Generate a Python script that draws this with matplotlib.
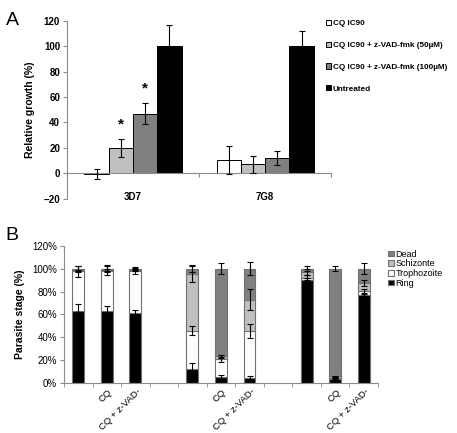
import numpy as np
import matplotlib
matplotlib.use("Agg")
import matplotlib.pyplot as plt
import matplotlib.transforms as mtransforms

plt.rcParams['font.family'] = ['Liberation Sans', 'DejaVu Sans']

# Panel A: relative growth
strains = ['3D7', '7G8']
treatments = ['CQ IC90', 'CQ IC90 + z-VAD-fmk (50µM)', 'CQ IC90 + z-VAD-fmk (100µM)', 'Untreated']
growth = [[-0.5, 10.5], [20, 7], [47, 12], [100, 100]]
growth_err = [[4, 11], [7, 7], [8.5, 5.5], [17, 12]]
significant = [[False, False], [True, False], [True, False], [False, False]]
colors_a = ['white', '#c0c0c0', '#808080', 'black']

# Panel B: parasite stage distribution
nan = np.nan
stage_ticks = ['', 'CQ', 'CQ + z-VAD-', '', '', 'CQ', 'CQ + z-VAD-', '', '', 'CQ', 'CQ + z-VAD-']
ring = [63, 63, 61, nan, 12.5, 5.5, 4.5, nan, 90, 3.5, 77]
troph = [34.5, 35, 37, nan, 33.5, 15.5, 41, nan, 2, 1.5, 3.5]
schiz = [0.5, 0.5, 0.5, nan, 49.5, 2.5, 27.5, nan, 5, 1, 7]
dead = [2, 1.5, 1.5, nan, 4.5, 76.5, 27, nan, 3, 94, 12.5]
ring_err = [6, 4.5, 3, nan, 5.5, 1.5, 1.5, nan, 1.5, 0.5, 1]
troph_err = [4.5, 4, 2.5, nan, 4, 2, 6, nan, 2, 0.5, 1.5]
schiz_err = [1, 1, 1, nan, 7, 1.5, 9, nan, 3, 0.5, 3]
dead_err = [2.5, 3, 1, nan, 3, 4.7, 6, nan, 2, 2.3, 4.6]
stage_names = ['Ring', 'Trophozoite', 'Schizonte', 'Dead']
colors_b = ['black', 'white', '#c0c0c0', '#808080']

axis_col = '#8c8c8c'

fig = plt.figure(figsize=(4.57, 4.33), dpi=100)

# ---------- panel A ----------
ax = fig.add_axes([0.1466, 0.541, 0.578, 0.411])
x = np.arange(len(strains))
w = 0.184
handles = []
for i, name in enumerate(treatments):
    pos = x + (i - 1.5) * w
    b = ax.bar(pos, growth[i], w, color=colors_a[i], edgecolor='black', linewidth=0.7,
               label=name, zorder=2)
    ax.errorbar(pos, growth[i], yerr=growth_err[i], fmt='none', ecolor='black',
                elinewidth=0.8, capsize=2.5, capthick=0.8, zorder=3)
    handles.append(b)
    for j in range(len(strains)):
        if significant[i][j]:
            ax.text(pos[j], growth[i][j] + growth_err[i][j] + 6, '*', ha='center',
                    va='bottom', fontsize=11, fontweight='bold')

ax.set_xlim(-0.5, 1.5)
ax.set_ylim(-20, 120)
ax.set_yticks(np.arange(-20, 121, 20))
ax.spines['top'].set_visible(False)
ax.spines['right'].set_visible(False)
ax.spines['bottom'].set_position(('data', 0))
for s in ('left', 'bottom'):
    ax.spines[s].set_color(axis_col)
    ax.spines[s].set_linewidth(0.8)
ax.set_xticks([-0.5, 0.5, 1.5])
ax.set_xticklabels([])
ax.tick_params(axis='x', direction='out', length=3, color=axis_col)
ax.tick_params(axis='y', direction='out', length=3, color=axis_col, labelsize=7, pad=2)
for lab in ax.get_yticklabels():
    lab.set_fontweight('bold')
for j, s in enumerate(strains):
    ax.text(x[j], -18.5, s, ha='center', va='center', fontsize=7, fontweight='bold')
ax.set_ylabel('Relative growth (%)', fontsize=7.5, fontweight='bold', labelpad=6)

fig.legend(handles=handles, loc='upper left', bbox_to_anchor=(0.707, 0.962),
           frameon=False, prop={'size': 5.9, 'weight': 'bold'}, labelspacing=1.75,
           handlelength=0.6, handleheight=0.6, handletextpad=0.2, borderaxespad=0)

# ---------- panel B ----------
bx = fig.add_axes([0.140, 0.1148, 0.687, 0.3178])
xs = np.arange(len(stage_ticks))
bw = 0.42
layers = [ring, troph, schiz, dead]
errs = [ring_err, troph_err, schiz_err, dead_err]
bottom = np.zeros(len(xs))
bhandles = []
for k, name in enumerate(stage_names):
    vals = np.array(layers[k], dtype=float)
    b = bx.bar(xs, vals, bw, bottom=bottom, color=colors_b[k], edgecolor='#707070',
               linewidth=0.8, label=name, zorder=2)
    bhandles.append(b)
    top = bottom + vals
    bx.errorbar(xs, top, yerr=errs[k], fmt='none', ecolor='black', elinewidth=0.8,
                capsize=2.5, capthick=0.8, zorder=3)
    bottom = top

bx.set_xlim(-0.5, len(xs) - 0.5)
bx.set_ylim(0, 120)
bx.set_yticks(np.arange(0, 121, 20))
bx.set_yticklabels(['%d%%' % v for v in range(0, 121, 20)])
bx.spines['top'].set_visible(False)
bx.spines['right'].set_visible(False)
for s in ('left', 'bottom'):
    bx.spines[s].set_color(axis_col)
    bx.spines[s].set_linewidth(0.8)
bx.set_xticks(xs)
bx.set_xticklabels(stage_ticks, rotation=45, ha='right', va='center',
                   rotation_mode='anchor', fontsize=6.8)
bx.set_xticks(np.arange(-0.5, len(xs), 1), minor=True)
bx.tick_params(axis='x', which='major', length=0, pad=5)
bx.tick_params(axis='x', which='minor', direction='out', length=3, color=axis_col)
bx.tick_params(axis='y', direction='out', length=3, color=axis_col, labelsize=7, pad=2)
offset = mtransforms.ScaledTranslation(4 / 100, 0, fig.dpi_scale_trans)
for lab in bx.get_xticklabels():
    lab.set_transform(lab.get_transform() + offset)
bx.set_ylabel('Parasite stage (%)', fontsize=7.5, fontweight='bold', labelpad=5)

fig.legend(handles=bhandles[::-1], loc='upper left', bbox_to_anchor=(0.842, 0.432),
           frameon=False, prop={'size': 6.5}, labelspacing=0.08,
           handlelength=0.6, handleheight=0.6, handletextpad=0.2, borderaxespad=0)

fig.text(0.012, 0.952, 'A', fontsize=14, va='center')
fig.text(0.012, 0.455, 'B', fontsize=14, va='center')

fig.savefig('out.png', dpi=100)
